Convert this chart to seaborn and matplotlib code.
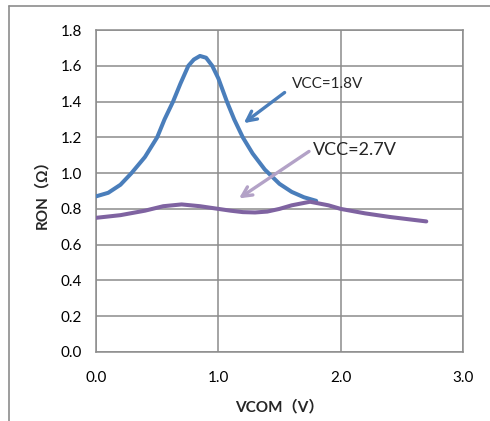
import matplotlib
matplotlib.use("Agg")
import matplotlib.pyplot as plt
import pandas as pd
import seaborn as sns
from matplotlib.lines import Line2D

# values
vcom_18 = [0.0, 0.1, 0.2, 0.29, 0.4, 0.5, 0.56, 0.63, 0.69, 0.755, 0.8, 0.85, 0.9,
           0.95, 1.0, 1.07, 1.13, 1.2, 1.28, 1.38, 1.5, 1.6, 1.7, 1.8]
ron_18 = [0.87, 0.89, 0.935, 1.00, 1.09, 1.20, 1.30, 1.40, 1.50, 1.60, 1.635, 1.655, 1.645,
          1.60, 1.53, 1.40, 1.30, 1.20, 1.11, 1.02, 0.94, 0.895, 0.865, 0.845]
vcom_27 = [0.0, 0.2, 0.4, 0.55, 0.7, 0.85, 1.0, 1.1, 1.2, 1.3, 1.4, 1.5, 1.6, 1.75, 1.9,
           2.0, 2.2, 2.4, 2.7]
ron_27 = [0.75, 0.765, 0.79, 0.815, 0.825, 0.815, 0.80, 0.79, 0.782, 0.78, 0.785, 0.80,
          0.82, 0.84, 0.82, 0.80, 0.775, 0.755, 0.73]
x_ticks = [0.0, 1.0, 2.0, 3.0]
y_ticks = [0.0, 0.2, 0.4, 0.6, 0.8, 1.0, 1.2, 1.4, 1.6, 1.8]

df = pd.concat([
    pd.DataFrame({'VCOM': vcom_18, 'RON': ron_18, 'VCC': '1.8V'}),
    pd.DataFrame({'VCOM': vcom_27, 'RON': ron_27, 'VCC': '2.7V'}),
])

sns.set_style("white")
plt.rcParams['font.family'] = ['Lato', 'Noto Sans CJK SC', 'DejaVu Sans']

fig = plt.figure(figsize=(4.9, 4.21), dpi=100)
ax = fig.add_axes([0.1959, 0.1639, 0.749, 0.7648])

# outer chart frame (partly cropped in the reference)
frame = '#8c8c8c'
fig.add_artist(Line2D([9/490, 9/490], [0, 1 - 6/421], color=frame, lw=1.2))
fig.add_artist(Line2D([9/490, 1], [1 - 6/421, 1 - 6/421], color=frame, lw=1.2))

sns.lineplot(data=df, x='VCOM', y='RON', hue='VCC', sort=False,
             palette={'1.8V': '#4A7EBB', '2.7V': '#7F63A1'},
             linewidth=2.9, legend=False, ax=ax, zorder=3)
for ln in ax.lines:
    ln.set_solid_joinstyle('round')
    ln.set_solid_capstyle('round')

ax.set_xlim(0, 3)
ax.set_ylim(0, 1.8)
ax.set_xticks(x_ticks)
ax.set_yticks(y_ticks)
ax.set_xticklabels([f'{v:.1f}' for v in x_ticks])
ax.set_yticklabels([f'{v:.1f}' for v in y_ticks])
ax.grid(True, color='#8c8c8c', linewidth=1.1)
for s in ax.spines.values():
    s.set_color('#8c8c8c')
    s.set_linewidth(1.1)
ax.tick_params(axis='both', length=5, width=1.1, color='#8c8c8c',
               labelsize=11, colors='black', pad=5)
ax.tick_params(axis='x', pad=9)

ax.set_xlabel('VCOM（V）', fontsize=11, fontweight='bold', labelpad=10)
ax.set_ylabel('RON（Ω）', fontsize=11, fontweight='bold', labelpad=8)

ax.annotate('', xy=(1.19, 1.27), xytext=(1.56, 1.46),
            arrowprops=dict(arrowstyle='->,head_length=0.7,head_width=0.35',
                            color='#4A7EBB', lw=2.4), zorder=4)
ax.text(1.60, 1.50, 'VCC=1.8V', fontsize=11, va='center', ha='left')
ax.annotate('', xy=(1.15, 0.85), xytext=(1.76, 1.13),
            arrowprops=dict(arrowstyle='->,head_length=0.7,head_width=0.35',
                            color='#B3A2C7', lw=2.4), zorder=4)
ax.text(1.77, 1.13, 'VCC=2.7V', fontsize=13, va='center', ha='left')

fig.savefig('out.png', dpi=100)
